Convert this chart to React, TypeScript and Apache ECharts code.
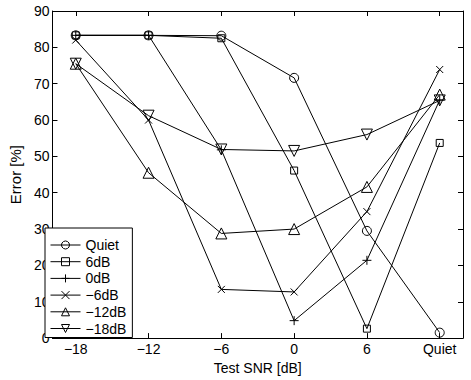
import React, { useEffect, useRef } from "react";
import * as echarts from "echarts";

const categories = ["−18", "−12", "−6", "0", "6", "Quiet"];
const seriesNames = ["Quiet", "6dB", "0dB", "−6dB", "−12dB", "−18dB"];
const quietVals = [83.3, 83.3, 83.2, 71.6, 29.5, 1.5];
const db6Vals = [83.3, 83.3, 82.5, 46.1, 2.6, 53.7];
const db0Vals = [83.3, 83.3, 51.8, 4.8, 21.4, 65.5];
const dbm6Vals = [82.0, 60.0, 13.4, 12.7, 34.8, 73.9];
const dbm12Vals = [75.5, 45.5, 28.8, 30.0, 41.6, 67.0];
const dbm18Vals = [75.5, 61.2, 51.9, 51.5, 56.0, 65.4];
const yTicks = [0, 10, 20, 30, 40, 50, 60, 70, 80, 90];

const allVals = [quietVals, db6Vals, db0Vals, dbm6Vals, dbm12Vals, dbm18Vals];
const symbols = [
  { symbol: "circle", size: 9, rotate: 0 },
  { symbol: "rect", size: 7, rotate: 0 },
  { symbol: "path://M0,5L10,5M5,0L5,10", size: 9, rotate: 0 },
  { symbol: "path://M0,0L10,10M10,0L0,10", size: 7, rotate: 0 },
  { symbol: "triangle", size: 11, rotate: 0 },
  { symbol: "triangle", size: 11, rotate: 180 },
];

const FONT = "Liberation Sans";

export default function App() {
  const ref = useRef<HTMLDivElement>(null);
  useEffect(() => {
    document.body.style.margin = "0";
    const chart = echarts.init(ref.current!, null, { renderer: "svg" });
    const idx = categories.map((_, i) => i);
    const series = allVals.map((vals, s) => ({
      name: seriesNames[s],
      type: "line",
      data: vals.map((v, i) => [i, v]),
      symbol: symbols[s].symbol,
      symbolSize: symbols[s].size,
      symbolRotate: symbols[s].rotate,
      showAllSymbol: true,
      lineStyle: { color: "#000", width: 1 },
      itemStyle: { color: "rgba(0,0,0,0)", borderColor: "#000", borderWidth: 1 },
      emphasis: { disabled: true },
      z: 3,
    }));
    const tickLabel = { fontFamily: FONT, fontSize: 14, color: "#000" };
    const line = { show: true, onZero: false, lineStyle: { color: "#000", width: 1 } };
    chart.setOption({
      animation: false,
      backgroundColor: "#fff",
      grid: { left: 42, right: 8, top: 11, bottom: 37, show: false },
      xAxis: [
        {
          type: "value",
          min: -0.32,
          max: 5.32,
          name: "Test SNR [dB]",
          nameLocation: "middle",
          nameGap: 19,
          nameTextStyle: { fontFamily: FONT, fontSize: 14, color: "#000" },
          axisLine: line,
          axisTick: { show: true, inside: true, length: 5, customValues: idx, lineStyle: { color: "#000" } },
          axisLabel: {
            ...tickLabel,
            margin: 4,
            customValues: idx,
            formatter: (v: number) => categories[Math.round(v)] ?? "",
          },
          splitLine: { show: false },
        },
        {
          type: "value",
          position: "top",
          min: -0.32,
          max: 5.32,
          axisLine: line,
          axisTick: { show: true, inside: true, length: 5, customValues: idx, lineStyle: { color: "#000" } },
          axisLabel: { show: false },
          splitLine: { show: false },
        },
      ],
      yAxis: [
        {
          type: "value",
          min: 0,
          max: 90,
          interval: 10,
          name: "Error [%]",
          nameLocation: "middle",
          nameGap: 27,
          nameTextStyle: { fontFamily: FONT, fontSize: 15, color: "#000" },
          axisLine: line,
          axisTick: { show: true, inside: true, length: 5, lineStyle: { color: "#000" } },
          axisLabel: { ...tickLabel, margin: 3, customValues: yTicks },
          splitLine: { show: false },
        },
        {
          type: "value",
          position: "right",
          min: 0,
          max: 90,
          interval: 10,
          axisLine: line,
          axisTick: { show: true, inside: true, length: 5, lineStyle: { color: "#000" } },
          axisLabel: { show: false },
          splitLine: { show: false },
        },
      ],
      legend: {
        orient: "vertical",
        left: 45,
        top: 228,
        data: seriesNames,
        backgroundColor: "#fff",
        borderColor: "#000",
        borderWidth: 1,
        borderRadius: 0,
        padding: [10, 6, 2, 5],
        itemWidth: 30,
        itemHeight: 10,
        itemGap: 2.7,
        itemStyle: { borderWidth: 1, borderColor: "#000", color: "rgba(0,0,0,0)" },
        lineStyle: { width: 1, color: "#000" },
        textStyle: { fontFamily: FONT, fontSize: 14, color: "#000", lineHeight: 14 },
        selectedMode: false,
      },
      series,
    });
    return () => chart.dispose();
  }, []);
  return <div ref={ref} style={{ width: 471, height: 380 }} />;
}
